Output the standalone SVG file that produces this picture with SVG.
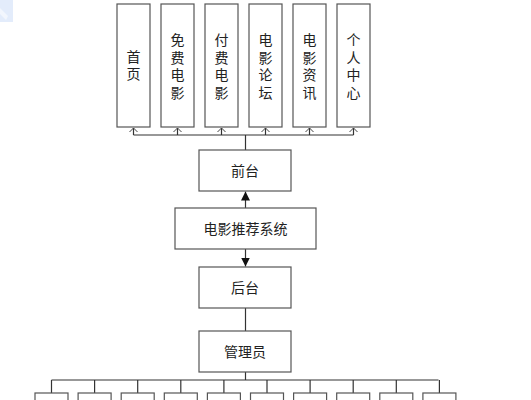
<svg xmlns="http://www.w3.org/2000/svg" width="531" height="400" viewBox="0 0 531 400">
<style>
.box{fill:#fff;stroke:#555;stroke-width:1.2}
.t{font-family:"Liberation Sans","Noto Sans CJK SC",sans-serif;font-size:14px;fill:#222;text-anchor:middle;dominant-baseline:central}
.ln{fill:none;stroke:#333;stroke-width:1.2}
.oa{fill:none;stroke:#444;stroke-width:1}
</style>
<defs>
<marker id="fa" viewBox="0 0 10 10" refX="10" refY="5" markerWidth="9" markerHeight="9" markerUnits="userSpaceOnUse" orient="auto"><path d="M0,0 L10,5 L0,10 z" fill="#111"/></marker>
</defs>
<rect width="531" height="400" fill="#fff"/>
<polygon points="0,0 13,0 13,22 0,22" fill="#dce7fa" opacity="0.8"/>
<polygon points="0,8 8,16 6,20 0,14" fill="#f2f6fd"/>
<g id="connectors">
<path class="ln" d="M133.5,135 H353.5"/>
<path class="ln" d="M245.5,135 V150"/>
<path class="ln" d="M133.5,135 V128 M177.5,135 V128 M221.5,135 V128 M265.5,135 V128 M309.5,135 V128 M353.5,135 V128"/>
<path class="oa" d="M129.5,132 L133.5,128 L137.5,132 M173.5,132 L177.5,128 L181.5,132 M217.5,132 L221.5,128 L225.5,132 M261.5,132 L265.5,128 L269.5,132 M305.5,132 L309.5,128 L313.5,132 M349.5,132 L353.5,128 L357.5,132"/>
<line class="ln" x1="245.5" y1="208" x2="245.5" y2="191.5" marker-end="url(#fa)"/>
<line class="ln" x1="245.5" y1="249" x2="245.5" y2="266.5" marker-end="url(#fa)"/>
<line class="ln" x1="245.5" y1="308" x2="245.5" y2="331"/>
<line class="ln" x1="245.5" y1="372" x2="245.5" y2="380"/>
<path class="ln" d="M51.5,380 H438.5"/>
<path class="ln" d="M51.5,380 V393 M94.6,380 V393 M137.7,380 V393 M180.8,380 V393 M223.9,380 V393 M267,380 V393 M310.1,380 V393 M353.2,380 V393 M396.3,380 V393 M439.4,380 V393"/>
</g>
<g id="n-home"><rect class="box" x="117" y="4" width="33" height="123"/><text class="t" x="133.5" y="57">首</text><text class="t" x="133.5" y="74">页</text></g>
<g id="n-free"><rect class="box" x="161" y="4" width="33" height="123"/><text class="t" x="177.5" y="40">免</text><text class="t" x="177.5" y="57.5">费</text><text class="t" x="177.5" y="75">电</text><text class="t" x="177.5" y="92.5">影</text></g>
<g id="n-paid"><rect class="box" x="205" y="4" width="33" height="123"/><text class="t" x="221.5" y="40">付</text><text class="t" x="221.5" y="57.5">费</text><text class="t" x="221.5" y="75">电</text><text class="t" x="221.5" y="92.5">影</text></g>
<g id="n-forum"><rect class="box" x="249" y="4" width="33" height="123"/><text class="t" x="265.5" y="40">电</text><text class="t" x="265.5" y="57.5">影</text><text class="t" x="265.5" y="75">论</text><text class="t" x="265.5" y="92.5">坛</text></g>
<g id="n-news"><rect class="box" x="293" y="4" width="33" height="123"/><text class="t" x="309.5" y="40">电</text><text class="t" x="309.5" y="57.5">影</text><text class="t" x="309.5" y="75">资</text><text class="t" x="309.5" y="92.5">讯</text></g>
<g id="n-user"><rect class="box" x="337" y="4" width="33" height="123"/><text class="t" x="353.5" y="40">个</text><text class="t" x="353.5" y="57.5">人</text><text class="t" x="353.5" y="75">中</text><text class="t" x="353.5" y="92.5">心</text></g>
<g id="n-front"><rect class="box" x="199" y="150" width="92" height="41"/><text class="t" x="245" y="170.5">前台</text></g>
<g id="n-system"><rect class="box" x="175" y="208" width="141" height="41"/><text class="t" x="245.5" y="228.5">电影推荐系统</text></g>
<g id="n-back"><rect class="box" x="199" y="267" width="92" height="41"/><text class="t" x="245" y="287.5">后台</text></g>
<g id="n-admin"><rect class="box" x="199" y="331" width="92" height="41"/><text class="t" x="245" y="351.5">管理员</text></g>
<g id="n-sub1"><rect class="box" x="35" y="393" width="33" height="20"/></g>
<g id="n-sub2"><rect class="box" x="78.1" y="393" width="33" height="20"/></g>
<g id="n-sub3"><rect class="box" x="121.2" y="393" width="33" height="20"/></g>
<g id="n-sub4"><rect class="box" x="164.3" y="393" width="33" height="20"/></g>
<g id="n-sub5"><rect class="box" x="207.4" y="393" width="33" height="20"/></g>
<g id="n-sub6"><rect class="box" x="250.5" y="393" width="33" height="20"/></g>
<g id="n-sub7"><rect class="box" x="293.6" y="393" width="33" height="20"/></g>
<g id="n-sub8"><rect class="box" x="336.7" y="393" width="33" height="20"/></g>
<g id="n-sub9"><rect class="box" x="379.8" y="393" width="33" height="20"/></g>
<g id="n-sub10"><rect class="box" x="422.9" y="393" width="33" height="20"/></g>
</svg>
